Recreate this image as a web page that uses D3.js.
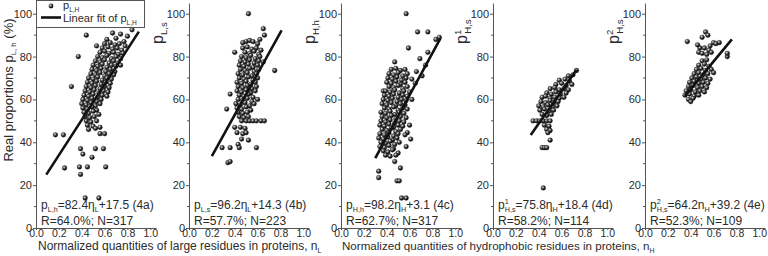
<!DOCTYPE html>
<html>
<head>
<meta charset="utf-8">
<script src="https://cdn.jsdelivr.net/npm/d3@7"></script>
<style>
  body { margin: 0; background: #fff; }
  svg { display: block; font-family: "Liberation Sans", Arial, sans-serif; }
</style>
</head>
<body>
<svg class="chart" width="768" height="256"></svg>
<script>
// tick values shared by all five panels
const xTicks = [0, 0.2, 0.4, 0.6, 0.8, 1.0];
const yTicks = [0, 20, 40, 60, 80, 100];

// scatter points [n, p]
const pointsLh = [
  [0.84,92.5],[0.44,90],[0.67,91],[0.74,90.5],[0.8,89.5],[0.62,88],[0.7,88.5],[0.77,87],
  [0.6,86],[0.65,86.5],[0.69,85.5],[0.73,86],[0.78,85],
  [0.53,85],[0.58,84],[0.63,84.5],[0.67,83.5],[0.71,84],[0.75,83],
  [0.56,82],[0.6,82.5],[0.64,81.5],[0.68,82],[0.72,81],[0.76,81.5],
  [0.37,80],[0.54,80],[0.58,79.5],[0.62,80.5],[0.66,79],[0.7,80],[0.74,79],
  [0.52,78],[0.56,77.5],[0.6,78.5],[0.64,77],[0.68,78],[0.72,77],
  [0.5,76],[0.54,75.5],[0.58,76.5],[0.62,75],[0.66,76],[0.7,75.5],[0.74,76],
  [0.49,74],[0.53,73.5],[0.57,74.5],[0.61,73],[0.65,74],[0.69,73],
  [0.48,72],[0.52,71.5],[0.56,72.5],[0.6,71],[0.64,72],[0.68,71.5],
  [0.46,70],[0.5,69.5],[0.54,70.5],[0.58,69],[0.62,70],[0.66,69.5],
  [0.45,68],[0.49,67.5],[0.53,68.5],[0.57,67],[0.61,68],[0.65,67.5],
  [0.31,66],[0.44,66],[0.48,65.5],[0.52,66.5],[0.56,65],[0.6,66],[0.64,65.5],
  [0.43,64],[0.47,63.5],[0.51,64.5],[0.55,63],[0.59,64],[0.63,63.5],
  [0.42,62],[0.46,61.5],[0.5,62.5],[0.54,61],[0.58,62],[0.62,61.5],
  [0.41,60],[0.45,59.5],[0.49,60.5],[0.53,59],[0.57,60],
  [0.4,58],[0.44,57.5],[0.48,58.5],[0.52,57],[0.56,58],
  [0.41,56],[0.45,55.5],[0.49,56.5],[0.53,55],
  [0.42,54],[0.46,53.5],[0.5,54.5],[0.55,53],
  [0.43,52],[0.47,51.5],[0.51,52],
  [0.44,50],[0.48,49.5],[0.53,50],
  [0.45,48],[0.5,47.5],[0.56,47],
  [0.46,46],[0.52,46.5],
  [0.17,43.5],[0.24,43.5],[0.56,44],[0.6,44],
  [0.39,37],[0.52,37],[0.59,37],[0.41,34.5],[0.49,33],
  [0.25,28],[0.38,28.5],[0.45,28.5],[0.61,28.5],[0.39,25],
  [0.43,14],[0.55,14]
];
const pointsLs = [
  [0.52,100],[0.65,93],[0.66,90],[0.62,88],[0.5,87],[0.53,87.5],[0.56,87],[0.6,86],[0.47,86.5],
  [0.47,84],[0.51,84.5],[0.55,83.5],[0.59,84],[0.63,83],
  [0.4,82],[0.49,82],[0.53,81.5],[0.57,82.5],[0.61,81],
  [0.46,80],[0.5,79.5],[0.54,80.5],[0.58,79],[0.62,80],
  [0.45,78],[0.49,77.5],[0.53,78.5],[0.57,77],[0.61,78],[0.65,77.5],
  [0.44,76],[0.48,75.5],[0.52,76.5],[0.56,75],[0.6,76],
  [0.45,74],[0.49,73.5],[0.53,74.5],[0.57,73],[0.61,74],[0.75,73.5],
  [0.43,72],[0.47,71.5],[0.51,72.5],[0.55,71],[0.59,72],
  [0.44,70],[0.48,69.5],[0.52,70.5],[0.56,69],[0.6,70],
  [0.42,68],[0.46,67.5],[0.5,68.5],[0.54,67],[0.58,68],
  [0.43,66],[0.47,65.5],[0.51,66.5],[0.55,65],[0.59,66],
  [0.42,64],[0.46,63.5],[0.5,64.5],[0.54,63],[0.58,64],
  [0.36,62.5],[0.44,62],[0.48,61.5],[0.52,62.5],[0.56,61],
  [0.43,60],[0.47,59.5],[0.51,60.5],[0.55,59],[0.6,60],
  [0.41,58],[0.45,57.5],[0.49,58.5],[0.53,57],[0.57,58],
  [0.33,55.5],[0.42,56],[0.46,55.5],[0.5,56.5],[0.54,55],
  [0.43,54],[0.47,53.5],[0.51,54],
  [0.44,52],[0.48,51.5],[0.52,52],
  [0.46,50],[0.5,50],[0.53,50],[0.56,50],[0.59,50],[0.63,50],[0.66,50],
  [0.4,47],[0.45,47],[0.49,46.5],
  [0.42,44.5],[0.47,44],[0.5,44.5],
  [0.46,41.5],[0.52,41],[0.43,39],
  [0.29,37.5],[0.36,37.5],[0.44,37.5],[0.59,37.5],
  [0.34,30.5],[0.36,31]
];
const pointsHh = [
  [0.57,100],[0.67,91.5],[0.76,91.5],[0.83,88],[0.86,89],[0.59,84],[0.47,77.5],[0.69,79],
  [0.76,82],[0.74,76],[0.37,64],[0.71,71],[0.66,73],
  [0.44,74],[0.48,74.5],[0.52,73.5],[0.56,74],
  [0.42,72],[0.46,71.5],[0.5,72.5],[0.54,71],[0.58,72],
  [0.41,70],[0.45,69.5],[0.49,70.5],[0.53,69],[0.57,70],[0.62,69.5],
  [0.4,68],[0.44,67.5],[0.48,68.5],[0.52,67],[0.56,68],[0.65,67.5],
  [0.42,66],[0.46,65.5],[0.5,66.5],[0.54,65],[0.58,66],
  [0.39,64],[0.43,63.5],[0.47,64.5],[0.51,63],[0.55,64],[0.6,63.5],
  [0.38,62],[0.42,61.5],[0.46,62.5],[0.5,61],[0.54,62],[0.58,61.5],
  [0.37,60],[0.41,59.5],[0.45,60.5],[0.49,59],[0.53,60],[0.57,59.5],[0.62,60],
  [0.36,58],[0.4,57.5],[0.44,58.5],[0.48,57],[0.52,58],[0.56,57.5],
  [0.38,56],[0.42,55.5],[0.46,56.5],[0.5,55],[0.54,56],[0.58,55.5],
  [0.35,54],[0.39,53.5],[0.43,54.5],[0.47,53],[0.51,54],[0.55,53.5],
  [0.36,52],[0.4,51.5],[0.44,52.5],[0.48,51],[0.52,52],[0.57,51.5],
  [0.35,50],[0.39,49.5],[0.43,50.5],[0.47,49],[0.51,50],[0.55,49.5],
  [0.34,48],[0.38,47.5],[0.42,48.5],[0.46,47],[0.5,48],[0.54,47.5],[0.6,48],
  [0.36,46],[0.4,45.5],[0.44,46.5],[0.48,45],[0.52,46],[0.58,44.5],
  [0.34,44],[0.38,43.5],[0.42,44.5],[0.46,43],[0.5,44],[0.56,43.5],
  [0.33,42],[0.37,41.5],[0.41,42.5],[0.45,41],[0.49,42],[0.61,41.5],
  [0.35,40],[0.39,39.5],[0.43,40.5],[0.47,39],[0.51,40],
  [0.34,38],[0.38,37.5],[0.42,38.5],[0.46,37],[0.57,38],
  [0.37,36],[0.41,35.5],[0.45,36.5],[0.5,35],
  [0.39,34],[0.43,33.5],[0.48,34],
  [0.47,31],[0.52,28],[0.33,26.5],[0.33,23.5],[0.49,22],[0.51,22],[0.53,14],[0.57,14]
];
const pointsHs1 = [
  [0.73,73.5],[0.66,71],[0.7,71.5],[0.58,69],[0.63,69.5],[0.67,68.5],
  [0.55,67],[0.6,67.5],[0.64,66.5],[0.69,67],
  [0.5,65],[0.54,65.5],[0.58,64.5],[0.62,65],[0.66,64.5],
  [0.47,63],[0.51,62.5],[0.55,63.5],[0.59,62.5],[0.64,63],
  [0.43,61],[0.46,61.5],[0.5,60.5],[0.54,61],[0.58,60.5],[0.62,61],
  [0.42,59],[0.46,58.5],[0.5,59.5],[0.53,58.5],[0.57,59],
  [0.4,57],[0.44,56.5],[0.48,57.5],[0.52,56.5],[0.56,57],
  [0.41,55],[0.45,55.5],[0.49,54.5],[0.53,55],
  [0.43,53],[0.47,52.5],[0.51,53],
  [0.35,50],[0.38,50],[0.41,50],[0.44,50],[0.47,50],[0.5,50],
  [0.45,48],[0.49,47.5],[0.47,46],[0.5,45.5],[0.48,44.5],[0.5,41],
  [0.43,37.5],[0.45,37.5],[0.47,37.5],[0.44,18.7]
];
const pointsHs2 = [
  [0.37,87],[0.53,91.5],[0.55,90],[0.5,89],[0.6,86.5],[0.65,86.5],[0.48,84],[0.52,84],
  [0.56,83],[0.47,82],[0.5,81.5],[0.54,81],[0.58,82],[0.72,80],[0.72,81.5],[0.46,85.5],
  [0.57,85],[0.62,86],
  [0.5,78],[0.54,78.5],
  [0.47,76],[0.52,76.5],[0.56,75.5],
  [0.45,74],[0.49,74.5],[0.53,73.5],[0.58,74],
  [0.43,72],[0.47,72.5],[0.51,71.5],[0.55,72],[0.6,72.5],
  [0.41,70],[0.45,70.5],[0.49,69.5],[0.53,70],[0.57,69.5],
  [0.39,68],[0.43,68.5],[0.47,67.5],[0.51,68],[0.55,67.5],
  [0.38,66],[0.42,66.5],[0.46,65.5],[0.5,66],[0.54,65.5],
  [0.36,64],[0.4,64.5],[0.44,63.5],[0.48,64],[0.52,63.5],
  [0.35,62],[0.39,62.5],[0.43,61.5],[0.47,62],
  [0.38,60],[0.42,60.5],[0.4,59]
];

// linear fits printed on each panel
const fitSlopes = [82.4, 96.2, 98.2, 75.8, 64.2];
const fitIntercepts = [17.5, 14.3, 3.1, 18.4, 39.2];
const fitRanges = [[0.09, 0.9], [0.2, 0.81], [0.3, 0.87], [0.33, 0.73], [0.35, 0.76]];
const rValues = ["64.0%", "57.7%", "62.7%", "58.2%", "52.3%"];
const nValues = [317, 223, 317, 114, 109];
const eqTags = ["4a", "4b", "4c", "4d", "4e"];
const pSubs = ["L,h", "L,s", "H,h", "H,s", "H,s"];
const pSups = [null, null, null, "1", "2"];
const nSymbols = ["η", "η", "η", "η", "n"];
const nSubs = ["L", "L", "H", "H", "H"];

const allPoints = [pointsLh, pointsLs, pointsHh, pointsHs1, pointsHs2];

const svg = d3.select(".chart");
const ink = "#2b2b2b";

// shaded ball for the markers
const grad = svg.append("defs").append("radialGradient")
  .attr("id", "ball").attr("cx", "38%").attr("cy", "35%").attr("r", "65%");
grad.append("stop").attr("offset", "0%").attr("stop-color", "#f2f2f2");
grad.append("stop").attr("offset", "25%").attr("stop-color", "#8a8a8a");
grad.append("stop").attr("offset", "60%").attr("stop-color", "#2a2a2a");
grad.append("stop").attr("offset", "100%").attr("stop-color", "#000");

// write text with sub / superscripts, parts = [{t, sub, sup, dx}]
function richText(sel, parts, size) {
  let shift = 0;
  parts.forEach(p => {
    const target = p.sub ? 0.26 * size : p.sup ? -0.38 * size : 0;
    const ts = sel.append("tspan").text(p.t).attr("dy", target - shift);
    if (p.sub || p.sup) ts.attr("font-size", size * 0.6);
    if (p.dx) ts.attr("dx", p.dx);
    shift = target;
  });
}

function pParts(i) {
  const parts = [{ t: "p" }];
  if (pSups[i]) {
    parts.push({ t: pSups[i], sup: true });
    parts.push({ t: pSubs[i], sub: true, dx: -4 });
  } else {
    parts.push({ t: pSubs[i], sub: true });
  }
  return parts;
}

const panelLeft = [36, 189, 341, 493, 645];
const plotBottom = 228;

const y = d3.scaleLinear().domain([0, 105]).range([plotBottom, 3]);

allPoints.forEach((pts, i) => {
  const left = panelLeft[i];
  const x = d3.scaleLinear().domain([0, 1.05]).range([left, left + 120]);
  const g = svg.append("g");

  // axes
  const yAxis = d3.axisLeft(y).tickValues(yTicks).tickSize(3).tickSizeOuter(0)
    .tickPadding(1).tickFormat(d3.format("d"));
  const gy = g.append("g").attr("transform", `translate(${left},0)`).call(yAxis);
  gy.selectAll(".minor").data([10, 30, 50, 70, 90]).enter().append("line")
    .attr("x1", -2).attr("x2", 0).attr("y1", d => y(d)).attr("y2", d => y(d))
    .attr("stroke", "#555");

  const xAxis = d3.axisBottom(x).tickValues(xTicks).tickSize(2).tickSizeOuter(0)
    .tickPadding(0).tickFormat(d3.format(".1f"));
  const gx = g.append("g").attr("transform", `translate(0,${plotBottom})`).call(xAxis);

  [gx, gy].forEach(ax => {
    ax.select(".domain").attr("stroke", "#555");
    ax.selectAll(".tick line").attr("stroke", "#555");
    ax.selectAll("text").attr("fill", ink)
      .attr("font-family", "Liberation Sans, Arial, sans-serif");
  });
  gy.selectAll("text").attr("font-size", 11);
  gx.selectAll("text").attr("font-size", 10.5);

  // points
  g.append("g").selectAll("circle").data(pts).enter().append("circle")
    .attr("cx", d => x(d[0])).attr("cy", d => y(d[1])).attr("r", 2.4)
    .attr("fill", "url(#ball)").attr("stroke", "#111").attr("stroke-width", 0.3);

  // fit line
  const fit = d3.line().x(d => x(d)).y(d => y(fitSlopes[i] * d + fitIntercepts[i]));
  g.append("path").attr("d", fit(fitRanges[i]))
    .attr("fill", "none").attr("stroke", "#111").attr("stroke-width", 2.6);

  // equation and R / N
  const eq = g.append("text").attr("x", left + 5).attr("y", 209)
    .attr("font-size", 12).attr("fill", ink);
  richText(eq, pParts(i).concat([
    { t: "=" + fitSlopes[i] + nSymbols[i] },
    { t: nSubs[i], sub: true },
    { t: "+" + fitIntercepts[i] + " (" + eqTags[i] + ")" }
  ]), 12);
  g.append("text").attr("x", left + 5).attr("y", 225)
    .attr("font-size", 12).attr("fill", ink)
    .text(`R=${rValues[i]}; N=${nValues[i]}`);

  // y label
  if (i === 0) {
    const yl = g.append("text").attr("transform", "translate(13,90) rotate(-90)")
      .attr("text-anchor", "middle").attr("font-size", 13).attr("fill", ink);
    richText(yl, [{ t: "Real proportions p" }, { t: "L, h", sub: true }, { t: " (%)" }], 13);
  } else {
    const yl = g.append("text").attr("transform", `translate(${left - 26},44) rotate(-90)`)
      .attr("font-size", 16).attr("fill", ink);
    richText(yl, pParts(i), 16);
  }
});

// legend in the first panel
const leg = svg.append("g");
leg.append("rect").attr("x", 36.5).attr("y", 0.5).attr("width", 108).attr("height", 27)
  .attr("fill", "#fff").attr("stroke", "#555");
leg.append("circle").attr("cx", 51).attr("cy", 6).attr("r", 2.4).attr("fill", "url(#ball)");
const l1 = leg.append("text").attr("x", 63).attr("y", 9).attr("font-size", 11).attr("fill", ink);
richText(l1, [{ t: "p" }, { t: "L,H", sub: true }], 11);
leg.append("line").attr("x1", 41).attr("x2", 61).attr("y1", 17.5).attr("y2", 17.5)
  .attr("stroke", "#111").attr("stroke-width", 2.6);
const l2 = leg.append("text").attr("x", 63).attr("y", 22).attr("font-size", 11).attr("fill", ink);
richText(l2, [{ t: "Linear fit of p" }, { t: "L,H", sub: true }], 11);

// x titles
const t1 = svg.append("text").attr("x", 38).attr("y", 250).attr("font-size", 12).attr("fill", ink);
richText(t1, [{ t: "Normalized quantities of large residues in proteins, n" }, { t: "L", sub: true }], 12);
const t2 = svg.append("text").attr("x", 342).attr("y", 250).attr("font-size", 11.6).attr("fill", ink);
richText(t2, [{ t: "Normalized quantities of hydrophobic residues in proteins, n" }, { t: "H", sub: true }], 11.6);
</script>
</body>
</html>
